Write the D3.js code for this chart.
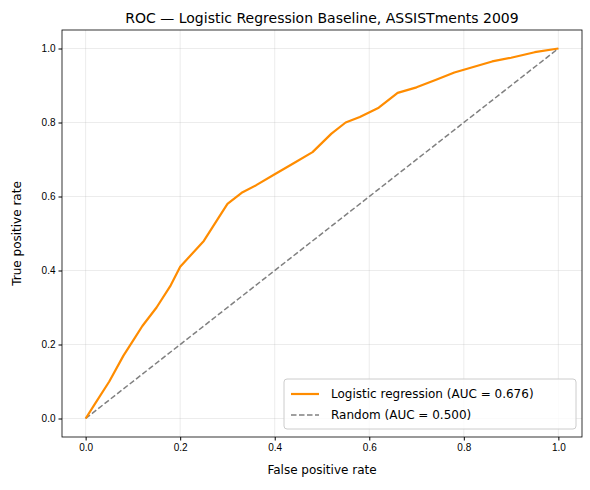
<!DOCTYPE html>
<html><head><meta charset="utf-8">
<script src="https://cdn.jsdelivr.net/npm/d3@7"></script>
<style>body{margin:0;background:#fff;font-family:"DejaVu Sans",sans-serif;}</style>
</head><body>
<div id="chart"></div>
<script>
// ROC curve points
var fpr = [0, 0.02, 0.05, 0.08, 0.1, 0.12, 0.15, 0.18, 0.2, 0.25, 0.28, 0.3, 0.33, 0.36, 0.4, 0.44, 0.48, 0.52, 0.55, 0.58, 0.62, 0.66, 0.7, 0.74, 0.78, 0.82, 0.86, 0.9, 0.95, 1];
var tpr = [0, 0.04, 0.1, 0.17, 0.21, 0.25, 0.3, 0.36, 0.41, 0.48, 0.54, 0.58, 0.61, 0.63, 0.66, 0.69, 0.72, 0.77, 0.8, 0.815, 0.84, 0.88, 0.895, 0.915, 0.935, 0.95, 0.965, 0.975, 0.99, 1];
var ticks = [0, 0.2, 0.4, 0.6, 0.8, 1.0];
var series = [
    {label: "Logistic regression (AUC = 0.676)", color: "#ff8c00", dash: null, width: 2.2},
    {label: "Random (AUC = 0.500)", color: "#808080", dash: "5.5,2.5", width: 1.5}
];

var W = 590, H = 490;
var box = {left: 62, right: 582, top: 30, bottom: 437};
var x = d3.scaleLinear().domain([-0.05, 1.05]).range([box.left, box.right]);
var y = d3.scaleLinear().domain([-0.05, 1.05]).range([box.bottom, box.top]);

var svg = d3.select("#chart").append("svg").attr("width", W).attr("height", H);

// grid
var g = svg.append("g");
ticks.forEach(function (t) {
    g.append("line").attr("x1", x(t)).attr("x2", x(t)).attr("y1", box.top).attr("y2", box.bottom)
        .attr("stroke", "#b0b0b0").attr("stroke-opacity", 0.3).attr("stroke-width", 0.8);
    g.append("line").attr("y1", y(t)).attr("y2", y(t)).attr("x1", box.left).attr("x2", box.right)
        .attr("stroke", "#b0b0b0").attr("stroke-opacity", 0.3).attr("stroke-width", 0.8);
});

var fmt = d3.format(".1f");
svg.append("g").attr("transform", "translate(0," + box.bottom + ")")
    .call(d3.axisBottom(x).tickValues(ticks).tickFormat(fmt).tickSizeOuter(0).tickSize(3.5))
    .call(function (a) { a.select(".domain").remove(); a.selectAll("text").attr("font-size", 10).attr("fill", "#000"); });
svg.append("g").attr("transform", "translate(" + box.left + ",0)")
    .call(d3.axisLeft(y).tickValues(ticks).tickFormat(fmt).tickSizeOuter(0).tickSize(3.5))
    .call(function (a) { a.select(".domain").remove(); a.selectAll("text").attr("font-size", 10).attr("fill", "#000"); });

svg.append("rect").attr("x", box.left).attr("y", box.top)
    .attr("width", box.right - box.left).attr("height", box.bottom - box.top)
    .attr("fill", "none").attr("stroke", "#000").attr("stroke-width", 0.8);

var line = d3.line().x(function (d) { return x(d[0]); }).y(function (d) { return y(d[1]); });
svg.append("path").datum([[0, 0], [1, 1]]).attr("d", line).attr("fill", "none")
    .attr("stroke", series[1].color).attr("stroke-width", series[1].width).attr("stroke-dasharray", series[1].dash);
svg.append("path").datum(d3.zip(fpr, tpr)).attr("d", line).attr("fill", "none")
    .attr("stroke", series[0].color).attr("stroke-width", series[0].width).attr("stroke-linejoin", "round");

// labels
svg.append("text").attr("x", (box.left + box.right) / 2).attr("y", 23).attr("text-anchor", "middle")
    .attr("font-size", 14).text("ROC — Logistic Regression Baseline, ASSISTments 2009");
svg.append("text").attr("x", (box.left + box.right) / 2).attr("y", 474).attr("text-anchor", "middle")
    .attr("font-size", 12).text("False positive rate");
svg.append("text").attr("transform", "translate(21," + (box.top + box.bottom) / 2 + ") rotate(-90)")
    .attr("text-anchor", "middle").attr("font-size", 12).text("True positive rate");

// legend
var lg = svg.append("g").attr("transform", "translate(284,379)");
lg.append("rect").attr("width", 292).attr("height", 50).attr("rx", 3)
    .attr("fill", "#fff").attr("fill-opacity", 0.8).attr("stroke", "#ccc");
series.forEach(function (s, i) {
    var yy = 15 + i * 21;
    lg.append("line").attr("x1", 7).attr("x2", 35).attr("y1", yy).attr("y2", yy)
        .attr("stroke", s.color).attr("stroke-width", s.width).attr("stroke-dasharray", s.dash);
    lg.append("text").attr("x", 47).attr("y", yy + 4).attr("font-size", 12).text(s.label);
});
</script>
</body></html>
